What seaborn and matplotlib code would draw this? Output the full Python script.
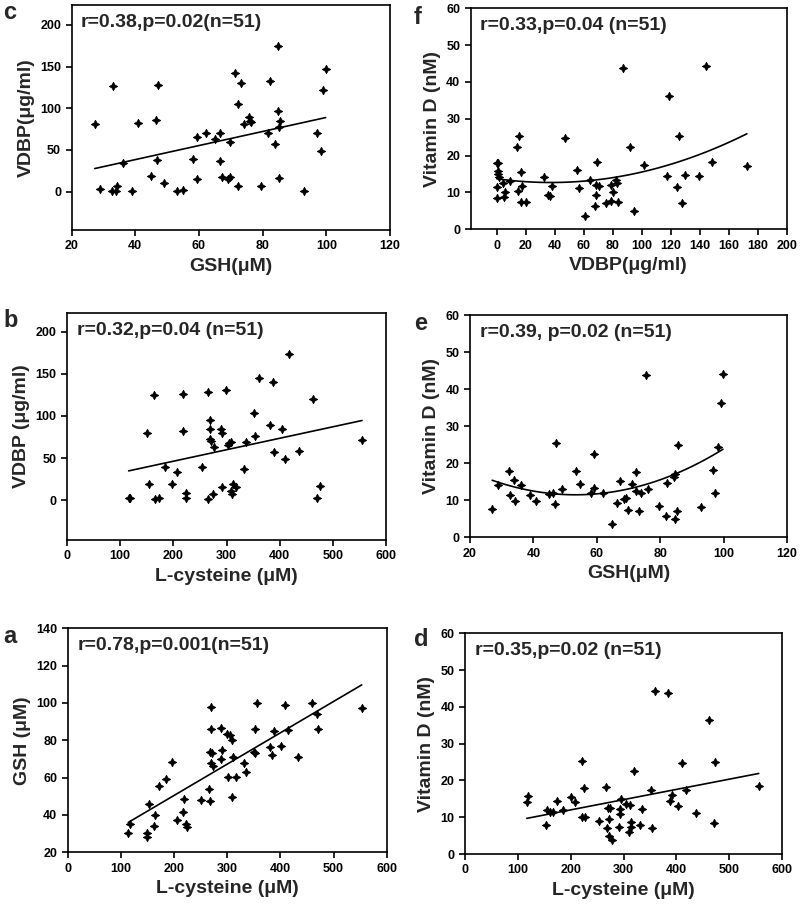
import numpy as np
import pandas as pd
import matplotlib
matplotlib.use('Agg')
import matplotlib.pyplot as plt
import seaborn as sns

# c: GSH vs VDBP
c_gsh = [27.3, 29.1, 33.1, 32.6, 34.0, 34.4, 36.3, 38.9, 41.0, 45.0, 46.5, 47.1, 47.0, 48.9,
         53.1, 55.0, 58.3, 59.4, 59.4, 62.2, 65.0, 66.5, 66.5, 67.2, 69.0, 69.9, 69.9, 71.2,
         72.3, 72.3, 73.2, 74.3, 75.7, 76.2, 76.5, 79.4, 81.6, 82.2, 83.8, 84.8, 84.8, 85.3,
         85.4, 85.3, 93.0, 97.0, 98.2, 99.0, 99.8]
c_vdbp = [80.8, 2.8, 127, 1.2, 1.2, 6.8, 34, 1.2, 82, 18.8, 86, 128, 37.6, 10.8,
          1.2, 2.0, 39.6, 66, 14.8, 70, 63.6, 70.8, 36.8, 18, 14.8, 18, 60, 142.8,
          104.8, 6.8, 130, 80.8, 90, 85.2, 83.6, 6.8, 70, 132.8, 57.2, 175, 97, 77,
          85.2, 16.8, 1.2, 70.8, 48.8, 122, 147]

# f: VDBP vs vitamin D
f_vdbp = [0, 0.7, 0.5, 1.0, 1.8, 0, 0, 4.6, 5.8, 5.3, 9.2, 13.8, 15.2, 16.6, 17.3, 14.3,
          16.6, 20.3, 32.3, 38.0, 35.0, 36.9, 47.0, 55.4, 57.0, 61.0, 64.6, 69.2, 68.5,
          70.4, 68.7, 68.0, 75.0, 78.9, 78.9, 80.3, 81.9, 83.0, 83.5, 87.4, 91.8, 95.0,
          101.5, 117.2, 118.8, 124.6, 125.5, 127.6, 129.6, 139.8, 144.2, 148.3, 172.5]
f_vitd = [18.1, 17.9, 15.7, 14.9, 14.3, 11.6, 8.4, 12.7, 10.0, 8.9, 13.2, 22.4, 25.2, 15.5,
          11.8, 10.5, 7.4, 7.4, 14.3, 11.8, 9.3, 9.0, 24.7, 16.1, 11.1, 3.6, 13.4, 18.4, 12.0,
          11.8, 9.3, 6.2, 7.2, 12.0, 7.8, 10.0, 13.4, 12.5, 7.4, 43.7, 22.4, 5.0,
          17.5, 14.5, 36.3, 11.6, 25.3, 7.2, 14.8, 14.5, 44.3, 18.3, 17.3]

# b: L-cysteine vs VDBP
b_cys = [116, 119, 150, 155, 163, 166, 173, 185, 198, 207, 219, 219, 224, 224, 254, 266,
         266, 269, 269, 269, 270, 274, 276, 290, 292, 292, 299, 302, 305, 309, 308, 311,
         313, 317, 333, 336, 351, 353, 361, 381, 387, 390, 405, 410, 418, 436, 463, 470,
         475, 555]
b_vdbp = [2.3, 2.3, 80, 19.5, 125, 1.6, 3.1, 40, 18.8, 33.6, 126, 82, 8.2, 2.3, 39, 128,
          1.6, 85, 95.7, 72.7, 70.3, 7, 63, 85, 80, 16, 131, 65, 67.6, 69.5, 11, 7.8,
          19.5, 16, 37.5, 69.5, 103.5, 76.6, 145, 89, 140.6, 57, 84, 48.8, 173, 59, 120, 2.3,
          16.8, 71]

# e: GSH vs vitamin D
e_gsh = [27.0, 28.9, 32.3, 33.9, 32.6, 34.2, 36.0, 38.9, 40.8, 45.0, 46.3, 47.0, 46.8,
         49.0, 53.3, 54.7, 58.1, 59.0, 59.0, 62.1, 64.9, 66.5, 67.4, 68.6, 69.2, 69.8,
         71.0, 72.3, 72.4, 73.4, 74.0, 75.6, 76.3, 79.6, 81.7, 82.1, 84.2, 84.7, 85.3,
         84.8, 85.5, 93.0, 96.6, 97.4, 98.1, 99.3, 99.8]
e_vitd = [7.6, 14.1, 17.8, 15.5, 11.4, 9.8, 14.1, 11.4, 9.8, 11.6, 12.0, 25.4, 9.0,
          13.0, 18.0, 14.3, 11.9, 22.4, 13.2, 12.0, 3.6, 9.2, 15.3, 10.3, 10.5, 7.4,
          14.3, 17.5, 12.5, 7.1, 11.9, 43.9, 13.0, 8.5, 5.8, 14.7, 16.4, 17.1, 7.1,
          4.9, 24.9, 8.3, 18.2, 11.9, 24.5, 36.2, 44.2]

# a: L-cysteine vs GSH
a_cys = [114, 117, 150, 150, 153.5, 162, 165, 171, 184, 197, 205, 218, 216, 222, 225, 251,
         265, 267, 268, 269, 270, 271, 270, 274, 288, 289, 291, 299, 301, 306, 309, 309,
         311, 317, 331, 335, 350, 352, 352, 356, 380, 384, 388, 402, 408, 415, 434, 460,
         468, 471, 553]
a_gsh = [30.2, 35.2, 30.2, 28.4, 46, 34, 40, 55.7, 59.3, 68.2, 37.3, 48.4, 41.8, 35.2, 33.4,
         48, 54, 47.5, 73.9, 98, 86, 73.4, 67.7, 66.4, 86.4, 70, 75, 83.2, 60.2, 82.9, 80.2,
         49.8, 71.2, 60.2, 67.7, 62.9, 73.9, 73, 85.9, 100.2, 76.6, 72, 85, 77.1, 98.8, 85.5,
         70.9, 99.8, 93.9, 86, 97.3]

# d: L-cysteine vs vitamin D
d_cys = [117, 120, 153, 156, 161, 167, 175, 186, 200, 209, 221, 221, 227, 226, 254, 266,
         268, 271, 274, 273, 273, 278, 291, 293, 293, 295, 304, 313, 310, 314, 314, 319,
         332, 335, 352, 353, 360, 384, 388, 391, 404, 411, 418, 437, 462, 471, 473, 556]
d_vitd = [14.2, 15.8, 7.9, 12.0, 11.5, 11.5, 14.5, 12.0, 15.6, 14.2, 25.4, 10.0, 10.0,
          18.0, 9.1, 18.3, 7.2, 12.4, 12.6, 9.4, 5.0, 3.8, 7.4, 10.9, 12.1, 14.9, 13.6,
          13.3, 6.1, 7.4, 8.8, 22.6, 7.9, 12.1, 17.4, 7.2, 44.3, 43.8, 14.4, 16.0, 13.1,
          24.8, 17.4, 11.2, 36.4, 8.5, 25.1, 18.5]

sns.set_style('ticks')
plt.rcParams['font.family'] = ['Liberation Sans', 'DejaVu Sans']
plt.rcParams['font.weight'] = 'bold'

fig = plt.figure(figsize=(8, 9.13), dpi=100)


def px_axes(left, top, right, bottom):
    return fig.add_axes([left / 800, 1 - bottom / 913, (right - left) / 800, (bottom - top) / 913])


def panel(ax, x, y, order, xlim, xticks, ylim, yticks, xlabel, ylabel, note):
    # 4-point star marker, close to the original cross-shaped dots
    sns.regplot(x=x, y=y, ax=ax, order=order, ci=None, marker=(4, 1, 0), color='black',
                scatter_kws={'s': 36, 'linewidths': 0.6, 'alpha': 1},
                line_kws={'linewidth': 1.2})
    ax.set_xlim(xlim)
    ax.set_xticks(xticks)
    ax.set_ylim(ylim)
    ax.set_yticks(yticks)
    for s in ax.spines.values():
        s.set_visible(True)
        s.set_linewidth(1.2)
        s.set_color('black')
    ax.tick_params(direction='out', length=4, width=1.2, labelsize=9, colors='black')
    for lab in ax.get_xticklabels() + ax.get_yticklabels():
        lab.set_fontweight('bold')
    ax.set_xlabel(xlabel, fontsize=14, fontweight='bold')
    ax.set_ylabel(ylabel, fontsize=14, fontweight='bold')
    ax.text(0.03, 0.96, note, transform=ax.transAxes, va='top', ha='left',
            fontsize=14, fontweight='bold')


ax_c = px_axes(71.5, 5, 390, 230)
panel(ax_c, c_gsh, c_vdbp, 1, (20, 120), range(20, 121, 20), (-46, 224), range(0, 201, 50),
      'GSH(μM)', 'VDBP(μg/ml)', 'r=0.38,p=0.02(n=51)')

ax_f = px_axes(470.7, 8.3, 786.7, 229.3)
panel(ax_f, f_vdbp, f_vitd, 2, (-18, 200), range(0, 201, 20), (0, 60), range(0, 61, 10),
      'VDBP(μg/ml)', 'Vitamin D (nM)', 'r=0.33,p=0.04 (n=51)')

ax_b = px_axes(67, 313, 386, 540)
panel(ax_b, b_cys, b_vdbp, 1, (0, 600), range(0, 601, 100), (-47, 222), range(0, 201, 50),
      'L-cysteine (μM)', 'VDBP (μg/ml)', 'r=0.32,p=0.04 (n=51)')

ax_e = px_axes(470, 315, 787, 537.3)
panel(ax_e, e_gsh, e_vitd, 2, (20, 120), range(20, 121, 20), (0, 60), range(0, 61, 10),
      'GSH(μM)', 'Vitamin D (nM)', 'r=0.39, p=0.02 (n=51)')

ax_a = px_axes(67.7, 628.3, 386.7, 852.3)
panel(ax_a, a_cys, a_gsh, 1, (0, 600), range(0, 601, 100), (20, 140), range(20, 141, 20),
      'L-cysteine (μM)', 'GSH (μM)', 'r=0.78,p=0.001(n=51)')

ax_d = px_axes(465, 633.3, 782, 854)
panel(ax_d, d_cys, d_vitd, 1, (0, 600), range(0, 601, 100), (0, 60), range(0, 61, 10),
      'L-cysteine (μM)', 'Vitamin D (nM)', 'r=0.35,p=0.02 (n=51)')

for letter, lx, ly in [('c', 3, 19), ('f', 414, 24), ('b', 3, 327), ('e', 414, 330),
                       ('a', 3, 643), ('d', 414, 646)]:
    fig.text(lx / 800, 1 - ly / 913, letter, fontsize=17, fontweight='bold', va='baseline')

fig.savefig('out.png', dpi=100)
